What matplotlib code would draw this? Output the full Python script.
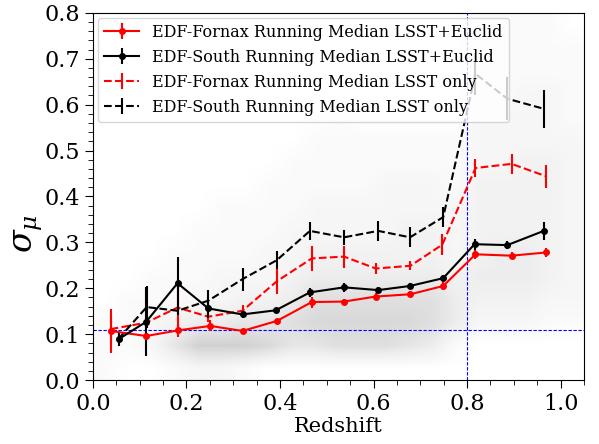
import numpy as np
import matplotlib
matplotlib.use("Agg")
import matplotlib.pyplot as plt
from matplotlib.ticker import MultipleLocator

plt.rcParams['font.family'] = ['DejaVu Serif']
plt.rcParams['mathtext.fontset'] = 'dejavuserif'

# Running medians (redshift, sigma_mu, error)
fornax_euclid_z = [0.038, 0.114, 0.181, 0.251, 0.320, 0.394, 0.468, 0.537, 0.605, 0.679, 0.749, 0.818, 0.895, 0.969]
fornax_euclid_s = [0.107, 0.096, 0.108, 0.118, 0.107, 0.129, 0.170, 0.171, 0.182, 0.187, 0.205, 0.274, 0.271, 0.278]
fornax_euclid_e = [0.048, 0.006, 0.015, 0.012, 0.005, 0.005, 0.012, 0.006, 0.008, 0.006, 0.008, 0.010, 0.008, 0.010]

south_euclid_z = [0.055, 0.114, 0.181, 0.247, 0.320, 0.391, 0.464, 0.537, 0.610, 0.678, 0.749, 0.816, 0.886, 0.964]
south_euclid_s = [0.089, 0.127, 0.211, 0.156, 0.143, 0.152, 0.191, 0.202, 0.196, 0.205, 0.222, 0.296, 0.294, 0.325]
south_euclid_e = [0.015, 0.075, 0.057, 0.020, 0.008, 0.005, 0.010, 0.010, 0.006, 0.006, 0.006, 0.012, 0.008, 0.020]

fornax_lsst_z = [0.038, 0.114, 0.181, 0.247, 0.320, 0.393, 0.468, 0.537, 0.605, 0.679, 0.747, 0.818, 0.895, 0.969]
fornax_lsst_s = [0.111, 0.125, 0.158, 0.138, 0.151, 0.215, 0.265, 0.269, 0.243, 0.249, 0.295, 0.462, 0.471, 0.444]
fornax_lsst_e = [0.030, 0.010, 0.050, 0.012, 0.012, 0.028, 0.028, 0.024, 0.012, 0.010, 0.023, 0.020, 0.022, 0.025]

south_lsst_z = [0.055, 0.115, 0.181, 0.247, 0.320, 0.393, 0.464, 0.537, 0.610, 0.678, 0.749, 0.818, 0.886, 0.964]
south_lsst_s = [0.090, 0.159, 0.151, 0.173, 0.220, 0.261, 0.325, 0.311, 0.325, 0.311, 0.355, 0.667, 0.613, 0.591]
south_lsst_e = [0.010, 0.045, 0.010, 0.024, 0.025, 0.020, 0.020, 0.017, 0.022, 0.022, 0.022, 0.045, 0.047, 0.041]

# Background galaxy cloud, density read by eye on a 0.05 x 0.05 grid (bottom row first)
cloud_density = [
    [1, 0, 0, 1, 2, 2, 1, 0, 0, 0, 0, 0, 0, 0, 0, 0, 0, 0, 0, 0, 0],
    [1, 1, 2, 5, 8, 8, 8, 7, 5, 5, 6, 6, 6, 5, 4, 1, 0, 0, 0, 0, 0],
    [1, 1, 2, 3, 4, 4, 5, 5, 6, 7, 7, 7, 7, 7, 6, 4, 2, 2, 2, 1, 1],
    [0, 1, 1, 1, 2, 2, 3, 3, 4, 6, 6, 6, 6, 6, 6, 4, 3, 3, 3, 2, 2],
    [0, 0, 1, 1, 1, 2, 2, 2, 3, 4, 4, 4, 4, 4, 4, 3, 4, 4, 4, 3, 2],
    [0, 0, 0, 1, 1, 1, 1, 2, 2, 3, 3, 3, 3, 3, 3, 2, 3, 4, 4, 3, 2],
    [0, 0, 0, 0, 1, 1, 1, 1, 2, 2, 2, 2, 2, 3, 3, 2, 3, 3, 3, 3, 2],
    [0, 0, 0, 0, 0, 1, 1, 1, 1, 2, 2, 2, 2, 2, 2, 2, 3, 3, 3, 3, 2],
    [0, 0, 0, 0, 0, 0, 0, 1, 1, 1, 1, 1, 2, 2, 2, 1, 3, 3, 3, 3, 2],
    [0, 0, 0, 0, 0, 0, 0, 0, 1, 1, 1, 1, 1, 1, 1, 1, 2, 2, 3, 3, 2],
    [0, 0, 0, 0, 0, 0, 0, 0, 0, 1, 1, 1, 1, 1, 1, 1, 2, 2, 2, 2, 2],
    [0, 0, 0, 0, 0, 0, 0, 0, 0, 0, 1, 0, 0, 0, 0, 0, 2, 2, 2, 2, 1],
    [0, 0, 0, 0, 0, 0, 0, 0, 0, 0, 0, 0, 0, 0, 0, 0, 1, 1, 2, 2, 1],
    [0, 0, 0, 0, 0, 0, 0, 0, 0, 0, 0, 0, 0, 0, 0, 0, 1, 1, 1, 1, 1],
    [0, 0, 0, 0, 0, 0, 0, 0, 0, 0, 0, 0, 0, 0, 0, 0, 1, 1, 1, 1, 1],
    [0, 0, 0, 0, 0, 0, 0, 0, 0, 0, 0, 0, 0, 0, 0, 0, 1, 1, 1, 1, 0],
]

fig = plt.figure(figsize=(5.99, 4.44), dpi=100)
ax = fig.add_axes([0.155, 0.144, 0.82, 0.827])

ax.imshow(np.array(cloud_density, dtype=float), extent=(0, 1.05, 0, 0.8), origin='lower',
          aspect='auto', cmap='Greys', vmin=0, vmax=28, interpolation='bilinear', zorder=0)

ax.axhline(0.11, color='blue', ls='--', lw=0.8, dashes=(3, 1.5), zorder=1)
ax.axvline(0.8, color='blue', ls='--', lw=0.8, dashes=(3, 1.5), zorder=1)

ax.errorbar(fornax_euclid_z, fornax_euclid_s, yerr=fornax_euclid_e, color='red', marker='o', ms=4,
            lw=1.5, label='EDF-Fornax Running Median LSST+Euclid', zorder=3)
ax.errorbar(south_euclid_z, south_euclid_s, yerr=south_euclid_e, color='black', marker='o', ms=4,
            lw=1.5, label='EDF-South Running Median LSST+Euclid', zorder=3)
ax.errorbar(fornax_lsst_z, fornax_lsst_s, yerr=fornax_lsst_e, color='red', ls='--',
            lw=1.5, label='EDF-Fornax Running Median LSST only', zorder=2)
ax.errorbar(south_lsst_z, south_lsst_s, yerr=south_lsst_e, color='black', ls='--',
            lw=1.5, label='EDF-South Running Median LSST only', zorder=2)

ax.set_xlim(0, 1.05)
ax.set_ylim(0, 0.8)
ax.xaxis.set_major_locator(MultipleLocator(0.2))
ax.xaxis.set_minor_locator(MultipleLocator(0.05))
ax.yaxis.set_major_locator(MultipleLocator(0.1))
ax.yaxis.set_minor_locator(MultipleLocator(0.02))
ax.tick_params(which='major', labelsize=16, length=6)
ax.tick_params(which='minor', length=3.5)
ax.set_xlabel('Redshift', fontsize=15, labelpad=1)
ax.set_ylabel(r'$\sigma_\mu$', fontsize=24)
ax.yaxis.set_label_coords(-0.098, 0.40)
ax.legend(loc='upper left', fontsize=11.5, handlelength=2.2, borderaxespad=0.3)

fig.savefig('out.png', dpi=100)
